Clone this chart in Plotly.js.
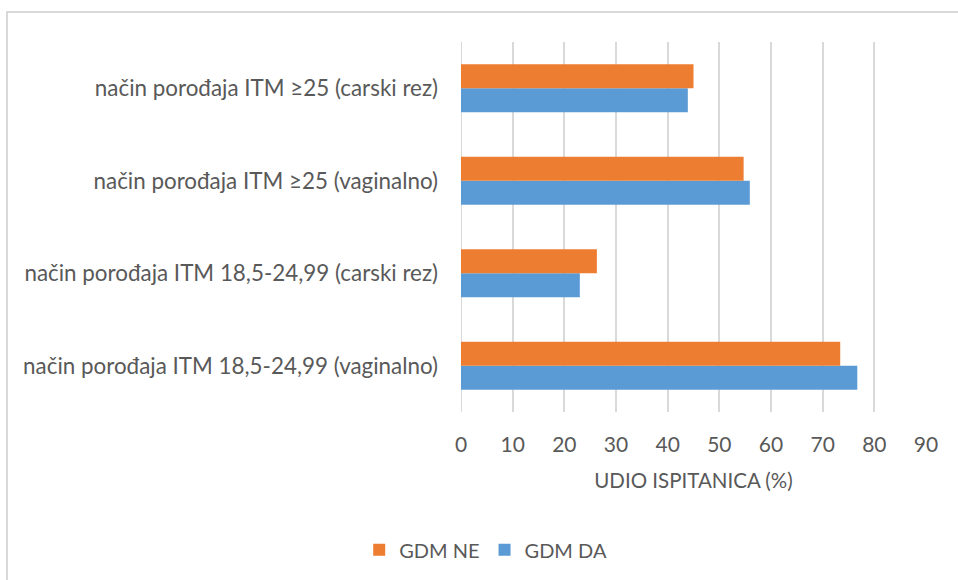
<!DOCTYPE html>
<html>
<head>
<meta charset="utf-8">
<script src="https://cdn.plot.ly/plotly-3.0.1.min.js"></script>
<style>
html,body{margin:0;padding:0;background:#fff;}
#wrap{position:relative;width:958px;height:580px;overflow:hidden;}
#chart{position:absolute;left:0;top:0;width:958px;height:580px;}
#frame{position:absolute;left:6px;top:11px;width:1000px;height:1000px;border:2px solid #d9d9d9;box-sizing:border-box;pointer-events:none;}
</style>
</head>
<body>
<div id="wrap"><div id="chart"></div><div id="frame"></div></div>
<script>
const categories = [
  "način porođaja ITM 18,5-24,99 (vaginalno)",
  "način porođaja ITM 18,5-24,99 (carski rez)",
  "način porođaja ITM ≥25 (vaginalno)",
  "način porođaja ITM ≥25 (carski rez)"
];
const gdmDA = [76.7, 23.0, 55.9, 43.9];
const gdmNE = [73.4, 26.3, 54.7, 45.0];
const xTicks = [0, 10, 20, 30, 40, 50, 60, 70, 80, 90];

const FONT = "Lato, 'Open Sans', sans-serif";
const GREY = "#595959";

const traces = [
  {type: "bar", orientation: "h", name: "GDM DA", y: categories, x: gdmDA,
   marker: {color: "#5B9BD5"}},
  {type: "bar", orientation: "h", name: "GDM NE", y: categories, x: gdmNE,
   marker: {color: "#ED7D31"}}
];

const layout = {
  width: 958, height: 580,
  margin: {l: 461, r: 32, t: 42, b: 168},
  paper_bgcolor: "#fff", plot_bgcolor: "#fff",
  font: {family: FONT, color: GREY, size: 20},
  barmode: "group", bargap: 0.48, bargroupgap: 0,
  showlegend: true,
  legend: {orientation: "h", traceorder: "reversed", xref: "container", yref: "container",
           x: 0.507, xanchor: "center", y: 0.052, yanchor: "middle",
           font: {size: 20, color: GREY}, itemwidth: 30},
  xaxis: {range: [0, 90], tickvals: xTicks, ticktext: xTicks.map(String),
          showgrid: true, gridcolor: "#d9d9d9", gridwidth: 2,
          zeroline: false, showline: false, ticks: "",
          ticklabelstandoff: 18, tickfont: {size: 21, color: GREY},
          title: {text: "UDIO ISPITANICA (%)", font: {size: 20.5, color: GREY}, standoff: 18},
          fixedrange: true},
  yaxis: {type: "category", categoryorder: "array", categoryarray: categories,
          showgrid: false, zeroline: false, showline: false, ticks: "",
          ticklabelstandoff: 22, tickfont: {size: 22.4, color: GREY}, fixedrange: true},
  shapes: [{type: "line", xref: "x", yref: "paper", x0: 0, x1: 0, y0: 0, y1: 1,
            line: {color: "#d9d9d9", width: 2}, layer: "below"}]
};

Plotly.newPlot("chart", traces, layout, {displayModeBar: false, staticPlot: true});
</script>
</body>
</html>
